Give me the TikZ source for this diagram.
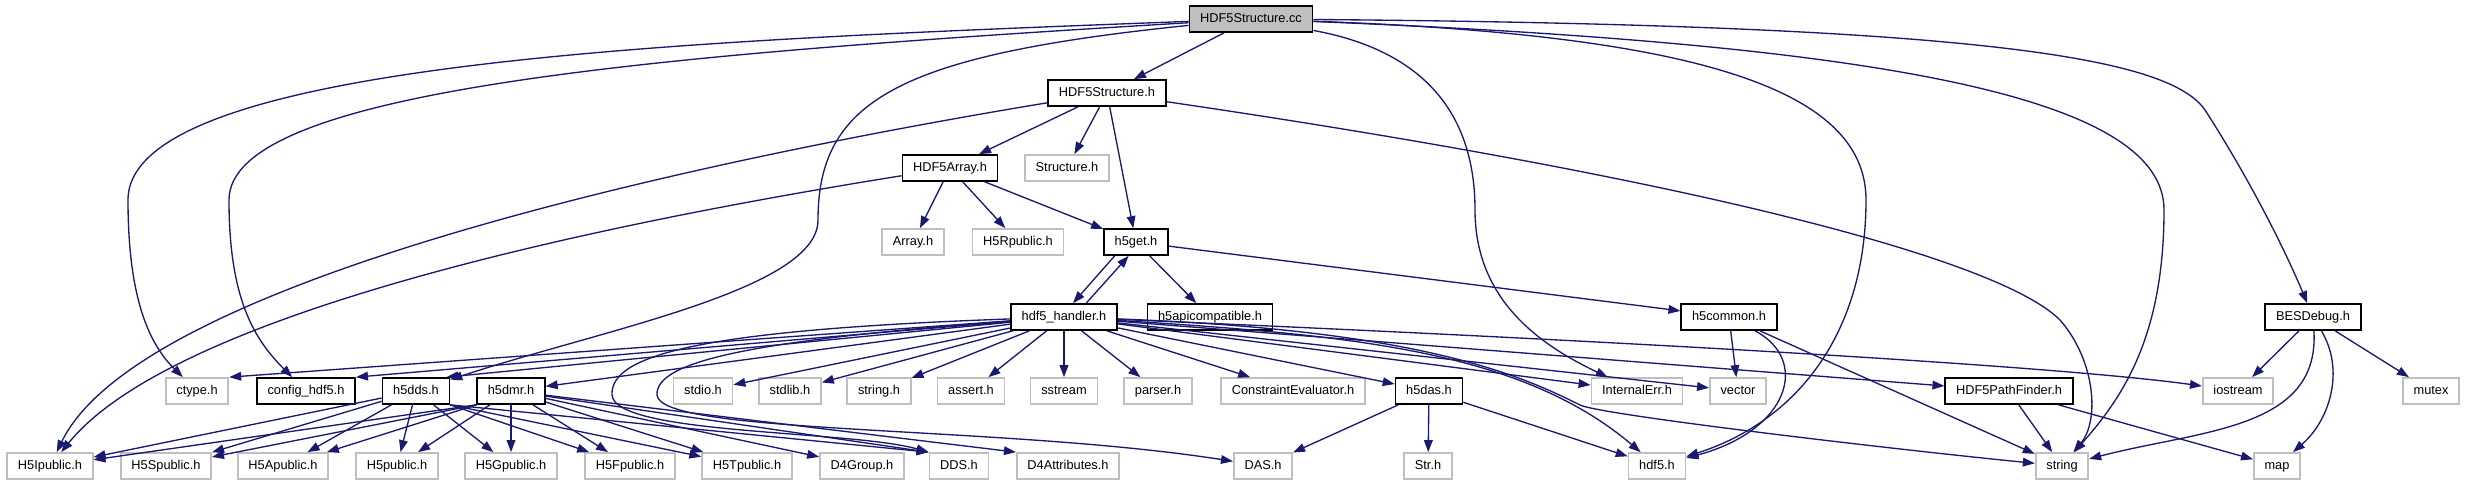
\documentclass[tikz,border=0pt]{standalone}
\usepackage{fontspec}
\setmainfont{Liberation Sans}
\usetikzlibrary{arrows.meta}

\definecolor{edgeblue}{RGB}{25,25,112}
\definecolor{extgray}{RGB}{191,191,191}

\tikzset{
  hdr/.style={draw=black, line width=1.3pt, fill=white, inner xsep=8pt, inner ysep=0pt,
    minimum height=19.5pt, text height=7pt, text depth=2pt,
    font=\fontsize{9.6}{11}\selectfont},
  ext/.style={hdr, draw=extgray},
  src/.style={hdr, fill=extgray},
  dep/.style={->, draw=edgeblue, line width=1pt},
}

\begin{document}
\begin{tikzpicture}[x=0.75pt, y=-0.75pt, >={Triangle[length=9pt, width=6.5pt]}]
\useasboundingbox (0,0) rectangle (2466,485);

% 1. Files, row by row (pixel grid, y downwards)
\node[src] (cc) at (1251,19) {HDF5Structure.cc};

\node[hdr] (structh) at (1107,93) {HDF5Structure.h};

\node[hdr] (arrayh) at (950,168) {HDF5Array.h};
\node[ext] (structureh) at (1067,168) {Structure.h};

\node[ext] (arrayext) at (913,242) {Array.h};
\node[ext] (hrpublic) at (1018,242) {H5Rpublic.h};
\node[hdr] (hget) at (1136,242) {h5get.h};

\node[hdr] (handler) at (1064,317) {hdf5\_handler.h};
\node[hdr] (hapicompat) at (1210,317) {h5apicompatible.h};
\node[hdr] (hcommon) at (1729,317) {h5common.h};
\node[hdr] (besdebug) at (2313,317) {BESDebug.h};

\node[ext] (ctype) at (197,391) {ctype.h};
\node[hdr] (config) at (306,391) {config\_hdf5.h};
\node[hdr] (hdds) at (416,391) {h5dds.h};
\node[hdr] (hdmr) at (511,391) {h5dmr.h};
\node[ext] (stdio) at (703,391) {stdio.h};
\node[ext] (stdlib) at (790,391) {stdlib.h};
\node[ext] (stringh) at (879,391) {string.h};
\node[ext] (assert) at (971,391) {assert.h};
\node[ext] (sstream) at (1064,391) {sstream};
\node[ext] (parser) at (1158,391) {parser.h};
\node[ext] (constraint) at (1293,391) {ConstraintEvaluator.h};
\node[hdr] (hdas) at (1429,391) {h5das.h};
\node[ext] (internalerr) at (1637,391) {InternalErr.h};
\node[ext] (vector) at (1738,391) {vector};
\node[hdr] (pathfinder) at (2009,391) {HDF5PathFinder.h};
\node[ext] (iostream) at (2238,391) {iostream};
\node[ext] (mutex) at (2431,391) {mutex};

\node[ext] (hipublic) at (50,466) {H5Ipublic.h};
\node[ext] (hspublic) at (166,466) {H5Spublic.h};
\node[ext] (hapublic) at (283,466) {H5Apublic.h};
\node[ext] (hpublic) at (397,466) {H5public.h};
\node[ext] (hgpublic) at (511,466) {H5Gpublic.h};
\node[ext] (hfpublic) at (630,466) {H5Fpublic.h};
\node[ext] (htpublic) at (747,466) {H5Tpublic.h};
\node[ext] (dfourgroup) at (862,466) {D4Group.h};
\node[ext] (dds) at (959,466) {DDS.h};
\node[ext] (dfourattr) at (1068,466) {D4Attributes.h};
\node[ext] (das) at (1263,466) {DAS.h};
\node[ext] (str) at (1428,466) {Str.h};
\node[ext] (hdffive) at (1657,466) {hdf5.h};
\node[ext] (string) at (2062,466) {string};
\node[ext] (map) at (2277,466) {map};

% 2. Includes of HDF5Structure.cc
\draw[dep] (cc) -- (structh);
\draw[dep] (cc) .. controls (700,40) and (128,60) .. (128,200)
  .. controls (128,300) and (150,345) .. (ctype);
\draw[dep] (cc) .. controls (650,55) and (229,90) .. (229,200)
  .. controls (229,300) and (255,340) .. (config);
\draw[dep] (cc) .. controls (900,55) and (818,100) .. (818,220)
  .. controls (818,290) and (600,330) .. (hdds);
\draw[dep] (cc) .. controls (1420,50) and (1475,110) .. (1475,210)
  .. controls (1475,300) and (1540,345) .. (internalerr);
\draw[dep] (cc) .. controls (1700,35) and (1866,90) .. (1866,200)
  .. controls (1866,330) and (1800,420) .. (hdffive);
\draw[dep] (cc) .. controls (1900,45) and (2164,100) .. (2164,210)
  .. controls (2164,340) and (2120,400) .. (string);
\draw[dep] (cc) .. controls (2000,25) and (2170,60) .. (2205,110)
  .. controls (2250,180) and (2285,250) .. (besdebug);

% 3. HDF5Structure.h and HDF5Array.h
\foreach \t in {arrayh, structureh, hget}
  \draw[dep] (structh) -- (\t);
\draw[dep] (structh) .. controls (700,160) and (140,280) .. (hipublic);
\draw[dep] (structh) .. controls (1700,180) and (2000,260) .. (2060,320)
  .. controls (2095,360) and (2100,420) .. (string);
\foreach \t in {arrayext, hrpublic, hget}
  \draw[dep] (arrayh) -- (\t);
\draw[dep] (arrayh) .. controls (500,240) and (160,330) .. (hipublic);

% 4. h5get.h <-> hdf5_handler.h
\draw[dep] (hget.213) -- (handler.57);
\draw[dep] (handler.32) -- (hget.242);
\draw[dep] (hget) -- (hapicompat);
\draw[dep] (hget) -- (hcommon);

% 5. hdf5_handler.h
\draw[dep] (handler) -- (ctype.north east);
\draw[dep] (handler) -- (config.north east);
\draw[dep] (handler) -- ([xshift=-3pt]hdds.north east);
\foreach \t in {hdmr, stdio, stdlib, stringh, assert, sstream, parser, constraint,
                hdas, internalerr, vector, pathfinder}
  \draw[dep] (handler) -- (\t);
\draw[dep] (handler) .. controls (1600,340) and (2050,365) .. (iostream);
\draw[dep] (handler) .. controls (1350,335) and (1520,350) .. (hdffive);
\draw[dep] (handler) .. controls (1420,330) and (1520,375) .. (1580,405)
  .. controls (1600,415) and (1900,450) .. (string);
\draw[dep] (handler) .. controls (700,330) and (610,355) .. (612,395)
  .. controls (615,435) and (850,430) .. (dds.north west);
\draw[dep] (handler) .. controls (760,340) and (655,360) .. (657,395)
  .. controls (660,435) and (1000,425) .. (das);

% 6. h5dds.h and h5dmr.h
\foreach \t in {hipublic, hspublic, hapublic, hpublic, hgpublic}
  \draw[dep] (hdds) -- (\t);
\foreach \t in {hfpublic, htpublic}
  \draw[dep] (hdds.south east) -- (\t);
\draw[dep] (hdds.south east) -- (dds.north west);
\foreach \t in {hipublic, hspublic, hapublic}
  \draw[dep] (hdmr.south west) -- (\t);
\foreach \t in {hpublic, hgpublic, hfpublic, htpublic, dfourgroup}
  \draw[dep] (hdmr) -- (\t);
\draw[dep] (hdmr) -- (dds.north west);
\draw[dep] (hdmr) -- (dfourattr.north west);

% 7. the remaining headers
\draw[dep] (hcommon) -- (vector);
\draw[dep] (hcommon) .. controls (1810,360) and (1790,430) .. (hdffive);
\draw[dep] (hcommon) -- (string);
\foreach \t in {das, str, hdffive}
  \draw[dep] (hdas) -- (\t);
\foreach \t in {string, map}
  \draw[dep] (pathfinder) -- (\t);
\draw[dep] (besdebug) -- (iostream);
\draw[dep] (besdebug) -- (mutex);
\draw[dep] (besdebug) .. controls (2345,370) and (2330,420) .. (map);
\draw[dep] (besdebug) .. controls (2320,430) and (2200,430) .. (string);

\end{tikzpicture}
\end{document}
